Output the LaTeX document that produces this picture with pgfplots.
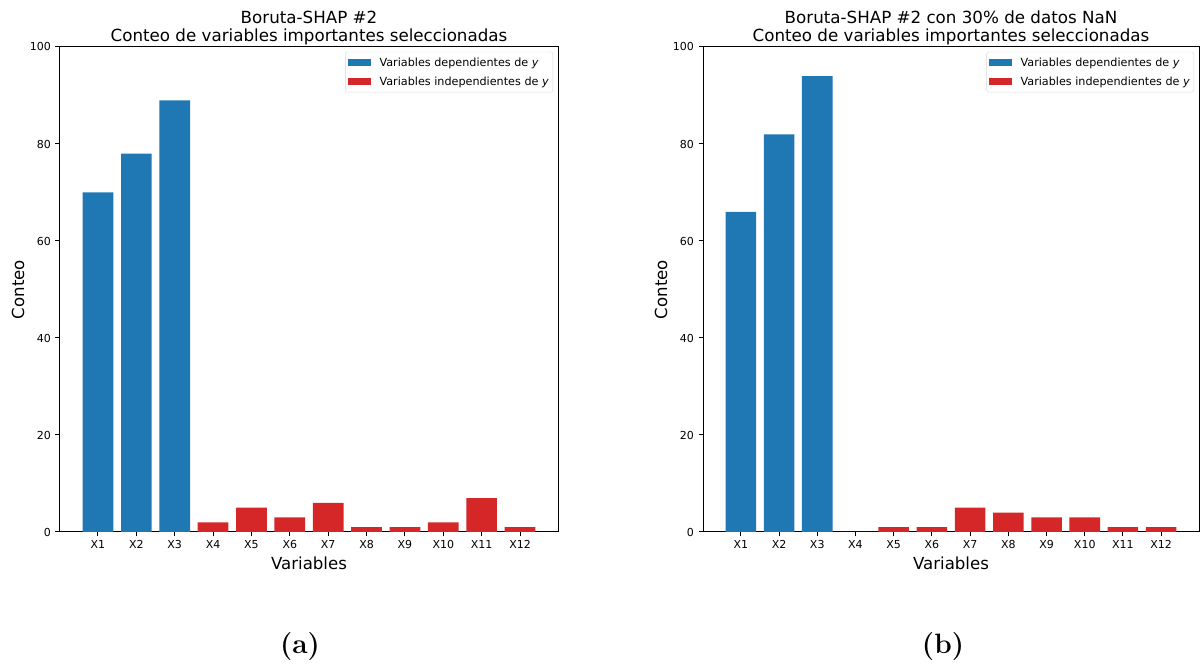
\documentclass[border=0pt]{standalone}
\usepackage{fontspec}
\setsansfont{DejaVu Sans}
\usepackage{pgfplots}
\pgfplotsset{compat=1.18}
\definecolor{mblue}{HTML}{1F77B4}
\definecolor{mred}{HTML}{D62728}
\pgfplotstableread{
x y
0 70
1 78
2 89
}\depA
\pgfplotstableread{
x y
3 2
4 5
5 3
6 6
7 1
8 1
9 2
10 7
11 1
}\indA
\pgfplotstableread{
x y
0 66
1 82
2 94
}\depB
\pgfplotstableread{
x y
3 0
4 1
5 1
6 5
7 4
8 3
9 3
10 1
11 1
}\indB
\pgfplotsset{
 mystyle/.style={
  scale only axis, width=498pt, height=485pt,
  xmin=-0.99, xmax=11.99, ymin=0, ymax=100,
  xtick={0,...,11}, xticklabels={X1,X2,X3,X4,X5,X6,X7,X8,X9,X10,X11,X12},
  ytick={0,20,...,100},
  tick align=outside, tick pos=left, major tick length=4.5pt,
  axis line style={line width=1pt},
  every tick/.style={black, line width=1pt},
  tick label style={font=\sffamily\fontsize{11}{12}\selectfont},
  yticklabel style={xshift=-1pt},
  /pgf/number format/assume math mode=true,
  xlabel={Variables}, ylabel={Conteo},
  label style={font=\sffamily\fontsize{16.6}{19}\selectfont},
  xlabel style={at={(axis description cs:0.5,0)}, anchor=center, yshift=-31pt},
  ylabel style={at={(axis description cs:-0.0843,0.5)}, anchor=center},
  title style={font=\sffamily\fontsize{16.7}{18}\selectfont, align=center, at={(axis description cs:0.5,1)}, anchor=south, inner sep=0pt, yshift=-4.5pt},
  legend style={at={(axis description cs:0.99,0.99)}, anchor=north east,
    font=\sffamily\fontsize{11.2}{12}\selectfont, draw=black!15, rounded corners=2pt,
    row sep=5pt, inner xsep=2pt, inner ysep=3.5pt, cells={anchor=west}},
  legend image code/.code={\fill[##1, sharp corners] (0pt,-3.5pt) rectangle (23pt,3.5pt); \path (30pt,0pt);},
  every axis plot/.append style={ybar, bar width=0.8, bar shift=0pt, draw=none},
 }
}
\begin{document}
\begin{tikzpicture}[x=1pt,y=1pt]
\useasboundingbox (0,0) rectangle (1200,667);
\begin{axis}[mystyle, at={(60pt,135pt)}, anchor=south west,
  title={Boruta-SHAP \#2\\Conteo de variables importantes seleccionadas}]
\addplot[fill=mblue] table[x=x,y=y] {\depA};
\addplot[fill=mred] table[x=x,y=y] {\indA};
\legend{Variables dependientes de \textit{y}, Variables independientes de \textit{y}}
\end{axis}
\begin{axis}[mystyle, at={(703pt,135pt)}, anchor=south west, width=496pt,
  title={Boruta-SHAP \#2 con 30\% de datos NaN\\Conteo de variables importantes seleccionadas}]
\addplot[fill=mblue] table[x=x,y=y] {\depB};
\addplot[fill=mred] table[x=x,y=y] {\indB};
\legend{Variables dependientes de \textit{y}, Variables independientes de \textit{y}}
\end{axis}
\node[font=\bfseries\fontsize{28}{30}\selectfont] at (300,20) {(a)};
\node[font=\bfseries\fontsize{28}{30}\selectfont] at (943,20) {(b)};
\end{tikzpicture}
\end{document}
